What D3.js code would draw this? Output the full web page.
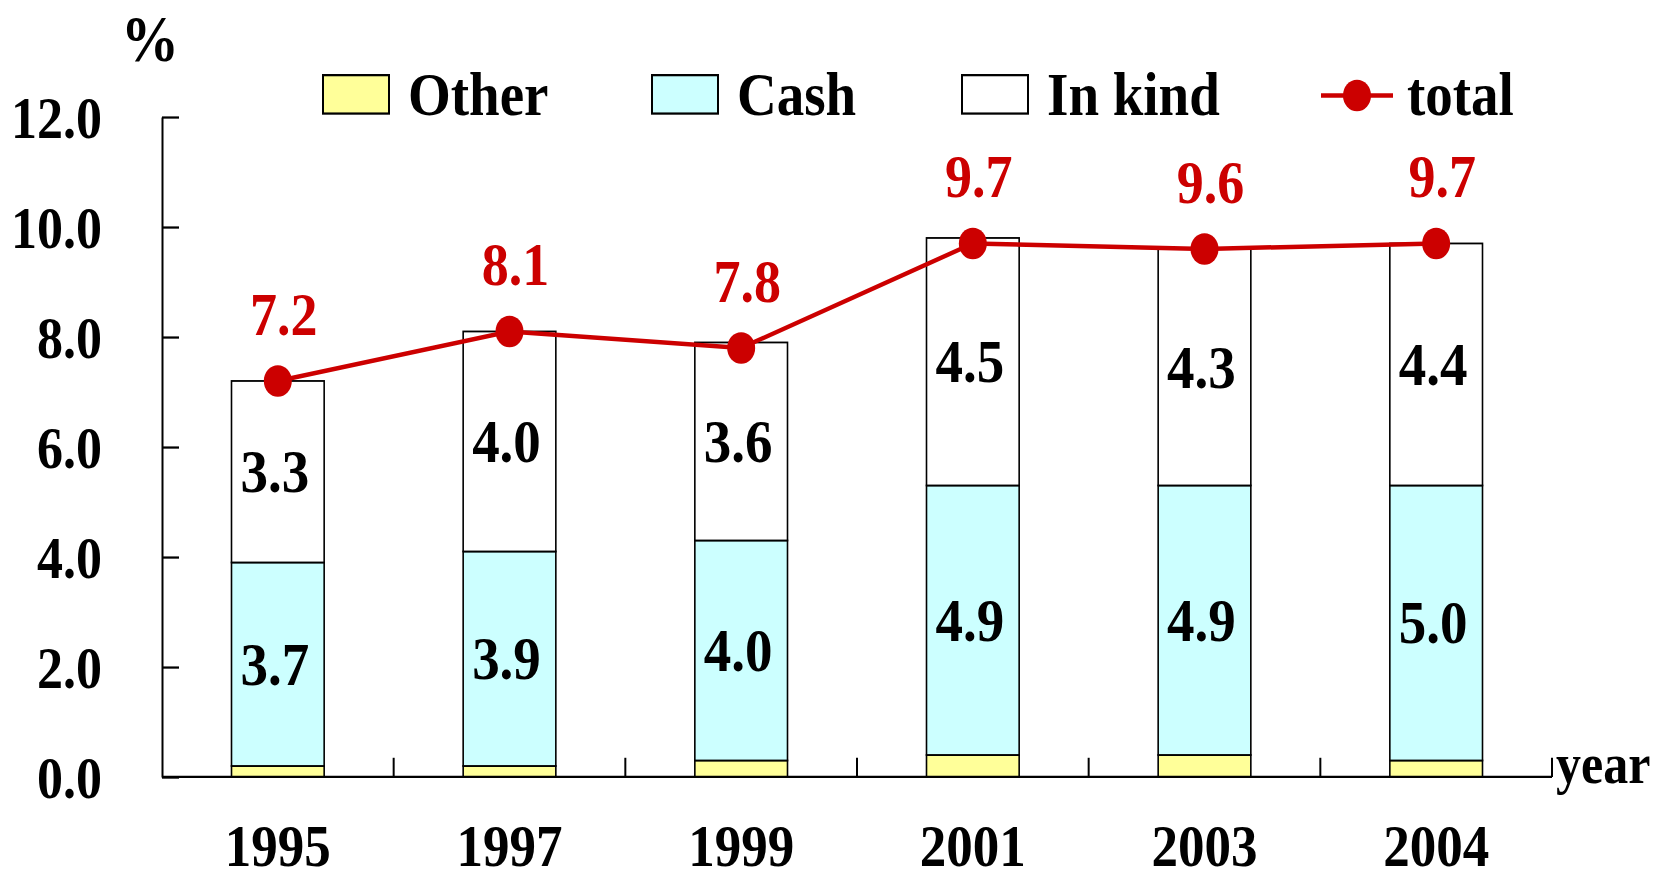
<!DOCTYPE html>
<html>
<head>
<meta charset="utf-8">
<script src="https://cdn.jsdelivr.net/npm/d3@7"></script>
<style>
  html, body { margin: 0; padding: 0; background: #fff; }
  svg text { font-family: "Liberation Serif", "Times New Roman", serif; font-weight: bold; }
</style>
</head>
<body>
<div id="chart"></div>
<script>
// Data
const years = ["1995", "1997", "1999", "2001", "2003", "2004"];
const other = [0.2, 0.2, 0.3, 0.4, 0.4, 0.3];
const cash = [3.7, 3.9, 4.0, 4.9, 4.9, 5.0];
const inKind = [3.3, 4.0, 3.6, 4.5, 4.3, 4.4];
const total = [7.2, 8.1, 7.8, 9.7, 9.6, 9.7];
const yTicks = [0, 2, 4, 6, 8, 10, 12];

const seriesKeys = ["other", "cash", "inKind"];
const seriesNames = { other: "Other", cash: "Cash", inKind: "In kind" };
const seriesColors = { other: "#FFFF99", cash: "#CCFFFF", inKind: "#FFFFFF" };
const red = "#CC0000";

// The original picture is a bit stretched vertically, so draw in a
// shorter box and let the viewBox stretch it
const W = 1661, H = 881, stretch = 1.13;
const VH = H / stretch;
const margin = { top: 103.5, right: 109, bottom: VH - 687.6, left: 162 };

const svg = d3.select("#chart")
    .append("svg")
    .attr("width", W)
    .attr("height", H)
    .attr("viewBox", "0 0 " + W + " " + VH)
    .attr("preserveAspectRatio", "none");

const x = d3.scaleBand()
    .domain(years)
    .range([margin.left, W - margin.right])
    .paddingInner(0.6)
    .paddingOuter(0.3);

const y = d3.scaleLinear()
    .domain([0, 12])
    .range([VH - margin.bottom, margin.top]);

// build the table for the stack
const table = years.map((yr, i) => ({ year: yr, other: other[i], cash: cash[i], inKind: inKind[i] }));
const stacked = d3.stack().keys(seriesKeys)(table);

// bars
const layers = svg.append("g")
    .selectAll("g")
    .data(stacked)
    .enter().append("g")
    .attr("fill", d => seriesColors[d.key]);

layers.selectAll("rect")
    .data(d => d)
    .enter().append("rect")
    .attr("x", d => x(d.data.year))
    .attr("y", d => y(d[1]))
    .attr("width", x.bandwidth())
    .attr("height", d => y(d[0]) - y(d[1]))
    .attr("stroke", "#000")
    .attr("stroke-width", 1.6);

// labels inside cash and in kind segments
stacked.filter(s => s.key !== "other").forEach(s => {
    svg.append("g")
        .selectAll("text")
        .data(s)
        .enter().append("text")
        .attr("x", d => x(d.data.year) + x.bandwidth() / 2 - 3)
        .attr("y", d => (y(d[0]) + y(d[1])) / 2 + 18)
        .attr("text-anchor", "middle")
        .style("font-size", "55px")
        .attr("fill", "#000")
        .text(d => d3.format(".1f")(d.data[s.key]));
});

// y axis with inward ticks
const yAxis = svg.append("g")
    .attr("transform", "translate(" + margin.left + ",0)")
    .call(d3.axisLeft(y)
        .tickValues(yTicks)
        .tickFormat(d3.format(".1f"))
        .tickSize(-17)
        .tickSizeOuter(0)
        .tickPadding(60));
yAxis.select(".domain").attr("stroke", "#000").attr("stroke-width", 2);
yAxis.selectAll(".tick line").attr("stroke", "#000").attr("stroke-width", 2);
yAxis.selectAll(".tick text")
    .attr("dy", "0.35em")
    .style("font-size", "52px")
    .style("font-family", "'Liberation Serif', 'Times New Roman', serif")
    .style("font-weight", "bold")
    .attr("fill", "#000");

// x axis: base line plus ticks on the category boundaries
const x0 = y(0);
svg.append("line")
    .attr("x1", margin.left)
    .attr("x2", W - margin.right)
    .attr("y1", x0)
    .attr("y2", x0)
    .attr("stroke", "#000")
    .attr("stroke-width", 2);

svg.append("g")
    .selectAll("line")
    .data(years)
    .enter().append("line")
    .attr("x1", d => x(d) + x.bandwidth() + x.step() * x.paddingInner() / 2)
    .attr("x2", d => x(d) + x.bandwidth() + x.step() * x.paddingInner() / 2)
    .attr("y1", x0)
    .attr("y2", x0 - 17)
    .attr("stroke", "#000")
    .attr("stroke-width", 2);

svg.append("g")
    .selectAll("text")
    .data(years)
    .enter().append("text")
    .attr("x", d => x(d) + x.bandwidth() / 2)
    .attr("y", VH - 13)
    .attr("text-anchor", "middle")
    .style("font-size", "53px")
    .text(d => d);

svg.append("text")
    .attr("x", 1556)
    .attr("y", x0 + 5)
    .style("font-size", "50px")
    .text("year");

svg.append("text")
    .attr("x", 150)
    .attr("y", 54)
    .attr("text-anchor", "middle")
    .style("font-size", "58px")
    .text("%");

// total line and markers
const cx = d => x(d) + x.bandwidth() / 2;
const pts = years.map((yr, i) => ({ year: yr, v: total[i] }));

svg.append("path")
    .datum(pts)
    .attr("fill", "none")
    .attr("stroke", red)
    .attr("stroke-width", 4)
    .attr("d", d3.line().x(d => cx(d.year)).y(d => y(d.v)));

svg.append("g")
    .selectAll("circle")
    .data(pts)
    .enter().append("circle")
    .attr("cx", d => cx(d.year))
    .attr("cy", d => y(d.v))
    .attr("r", 14)
    .attr("fill", red);

svg.append("g")
    .selectAll("text")
    .data(pts)
    .enter().append("text")
    .attr("x", d => cx(d.year) + 6)
    .attr("y", d => y(d.v) - 41)
    .attr("text-anchor", "middle")
    .style("font-size", "54px")
    .attr("fill", red)
    .text(d => d3.format(".1f")(d.v));

// legend
const legendX = [323, 652, 962];
const legend = svg.append("g");
seriesKeys.forEach((k, i) => {
    legend.append("rect")
        .attr("x", legendX[i])
        .attr("y", 66.5)
        .attr("width", 66)
        .attr("height", 34)
        .attr("fill", seriesColors[k])
        .attr("stroke", "#000")
        .attr("stroke-width", 2);
    legend.append("text")
        .attr("x", legendX[i] + 85)
        .attr("y", 102)
        .style("font-size", "55px")
        .text(seriesNames[k]);
});
legend.append("line")
    .attr("x1", 1321)
    .attr("x2", 1393)
    .attr("y1", 84.5)
    .attr("y2", 84.5)
    .attr("stroke", red)
    .attr("stroke-width", 4);
legend.append("circle")
    .attr("cx", 1357)
    .attr("cy", 84.5)
    .attr("r", 14)
    .attr("fill", red);
legend.append("text")
    .attr("x", 1407)
    .attr("y", 102)
    .style("font-size", "55px")
    .text("total");
</script>
</body>
</html>
